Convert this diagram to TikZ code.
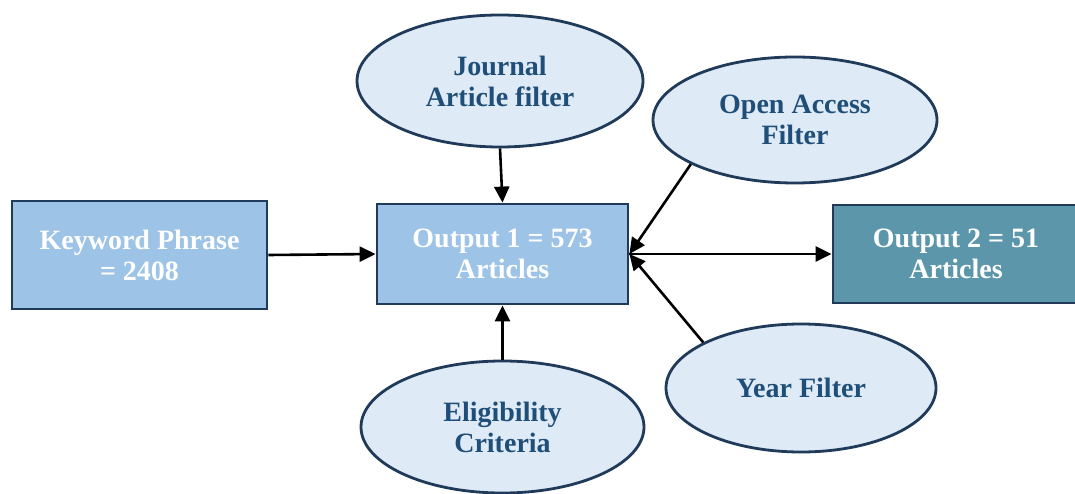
\documentclass[tikz,border=0pt]{standalone}
\usepackage{fontspec}
\setmainfont{Liberation Serif}
\usetikzlibrary{shapes.geometric,arrows.meta}
\definecolor{boxfill}{HTML}{9DC3E6}
\definecolor{outfill}{HTML}{5B96AA}
\definecolor{ellfill}{HTML}{DEEAF6}
\definecolor{bordercol}{HTML}{203A5A}
\definecolor{elltext}{HTML}{1F4E79}
\tikzset{
  boxnode/.style={draw=bordercol, line width=2.8pt, fill=boxfill, text=white,
    align=center, inner sep=0pt, font=\bfseries\fontsize{28}{31}\selectfont},
  ellnode/.style={ellipse, draw=bordercol, line width=2.8pt, fill=ellfill, text=elltext,
    align=center, inner sep=0pt, font=\bfseries\fontsize{28}{31}\selectfont},
  arr/.style={draw=black, line width=2.6pt, -{Triangle[length=16pt,width=15pt]}}
}
\begin{document}
\begin{tikzpicture}[x=1pt,y=-1pt]
\useasboundingbox (0,0) rectangle (1075,494);
\node[boxnode, minimum width=255pt, minimum height=108pt] (kw) at (139.5,255) {Keyword Phrase\\= 2408};
\node[boxnode, minimum width=251pt, minimum height=100pt] (out1) at (502.5,254) {Output 1 = 573\\Articles};
\node[boxnode, fill=outfill, minimum width=246pt, minimum height=98pt] (out2) at (956,254) {Output 2 = 51\\Articles};
\node[ellnode, minimum width=286pt, minimum height=132pt] (journal) at (500,81) {Journal\\Article filter};
\node[ellnode, minimum width=284pt, minimum height=126pt] (open) at (795,120) {Open Access\\Filter};
\node[ellnode, minimum width=283pt, minimum height=132pt] (elig) at (502.5,427) {Eligibility\\Criteria};
\node[ellnode, minimum width=270pt, minimum height=128pt] (year) at (801,388) {Year Filter};
\draw[arr] (kw.east) -- (out1.west);
\draw[arr] (journal.south) -- (out1.north);
\draw[arr] (elig.north) -- (out1.south);
\draw[arr] (open.203) -- (out1.east);
\draw[arr] (year.155) -- (out1.east);
\draw[arr] (out1.east) -- (out2.west);
\end{tikzpicture}
\end{document}
